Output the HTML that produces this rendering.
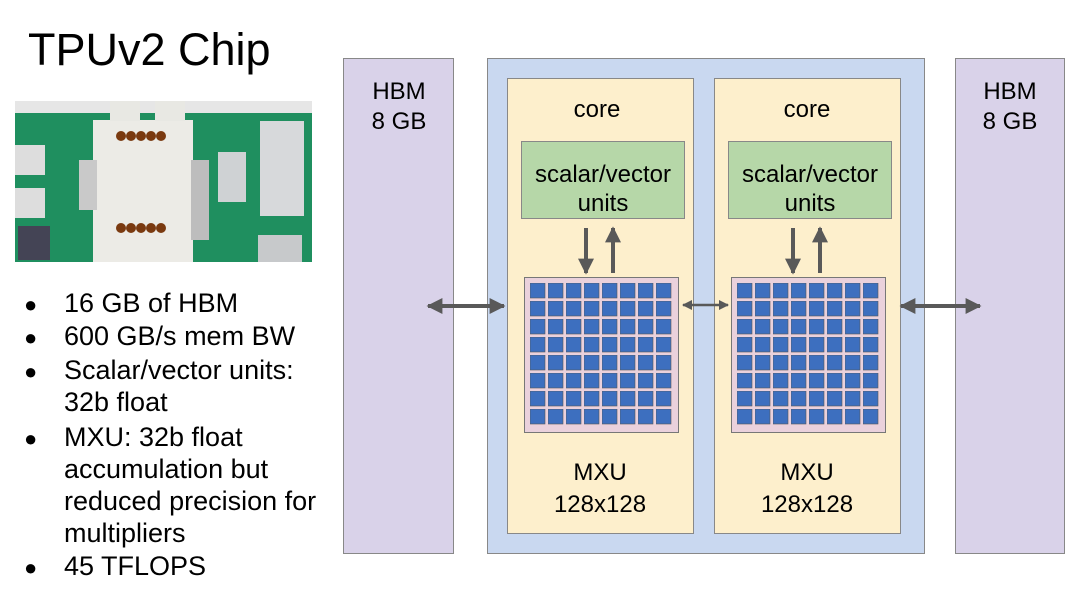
<!DOCTYPE html>
<html><head><style>
body{margin:0;width:1080px;height:608px;background:#fff;overflow:hidden;font-family:"Liberation Sans",sans-serif;}
</style></head><body>
<svg width="1080" height="608" xmlns="http://www.w3.org/2000/svg" font-family="Liberation Sans, sans-serif">
<defs>
<marker id="ah" markerWidth="4" markerHeight="4" refX="3.6" refY="2" orient="auto-start-reverse" markerUnits="strokeWidth"><path d="M0,0 L4,2 L0,4 z" fill="#595959"/></marker>
<pattern id="grid" x="530" y="283" width="18" height="18" patternUnits="userSpaceOnUse"><rect x="0" y="0" width="15" height="15" fill="#3d6fbf" stroke="#555" stroke-width="0.6"/></pattern>
<pattern id="grid2" x="737" y="283" width="18" height="18" patternUnits="userSpaceOnUse"><rect x="0" y="0" width="15" height="15" fill="#3d6fbf" stroke="#555" stroke-width="0.6"/></pattern>
</defs>
<text x="28" y="65" font-size="45" fill="#000">TPUv2 Chip</text>
<!-- photo approximation -->
<rect x="15" y="101" width="297" height="161" fill="#1f8f5f"/>
<rect x="15" y="101" width="297" height="12" fill="#e6e6e6"/>
<rect x="15" y="145" width="30" height="30" fill="#ddd"/>
<rect x="15" y="188" width="30" height="30" fill="#ddd"/>
<rect x="18" y="226" width="32" height="34" fill="#445"/>
<rect x="93" y="120" width="100" height="142" fill="#ecebe6"/>
<rect x="110" y="101" width="30" height="20" fill="#e8e8e3"/>
<rect x="155" y="101" width="30" height="20" fill="#e8e8e3"/>
<rect x="79" y="160" width="18" height="50" fill="#c9c9c9"/>
<rect x="191" y="160" width="18" height="80" fill="#bdbdbd"/>
<rect x="218" y="152" width="28" height="50" fill="#cfd2d4"/>
<rect x="260" y="121" width="44" height="95" fill="#d7d9db"/>
<rect x="258" y="235" width="44" height="27" fill="#c7c9cb"/>
<g fill="#7a3a10"><circle cx="121" cy="136" r="5"/><circle cx="131" cy="136" r="5"/><circle cx="141" cy="136" r="5"/><circle cx="151" cy="136" r="5"/><circle cx="161" cy="136" r="5"/>
<circle cx="121" cy="228" r="5"/><circle cx="131" cy="228" r="5"/><circle cx="141" cy="228" r="5"/><circle cx="151" cy="228" r="5"/><circle cx="161" cy="228" r="5"/></g>
<!-- bullets -->
<g font-size="27" fill="#000">
<text x="24" y="312" font-size="22">●</text><text x="64" y="312">16 GB of HBM</text>
<text x="24" y="345" font-size="22">●</text><text x="64" y="345">600 GB/s mem BW</text>
<text x="24" y="379" font-size="22">●</text><text x="64" y="379">Scalar/vector units:</text>
<text x="64" y="411">32b float</text>
<text x="24" y="446" font-size="22">●</text><text x="64" y="446">MXU: 32b float</text>
<text x="64" y="478">accumulation but</text>
<text x="64" y="510">reduced precision for</text>
<text x="64" y="542">multipliers</text>
<text x="24" y="575" font-size="22">●</text><text x="64" y="575">45 TFLOPS</text>
</g>
<!-- HBMs -->
<rect x="343.5" y="58.5" width="110" height="495" fill="#d9d2e9" stroke="#888"/>
<rect x="955.5" y="58.5" width="109" height="495" fill="#d9d2e9" stroke="#888"/>
<g font-size="24" fill="#000" text-anchor="middle">
<text x="399" y="99">HBM</text><text x="399" y="129">8 GB</text>
<text x="1010" y="99">HBM</text><text x="1010" y="129">8 GB</text>
</g>
<rect x="487.5" y="58.5" width="437" height="495" fill="#c9d8f0" stroke="#888"/>
<rect x="507.5" y="78.5" width="186" height="455" fill="#fdefcc" stroke="#888"/>
<rect x="714.5" y="78.5" width="186" height="455" fill="#fdefcc" stroke="#888"/>
<rect x="521.5" y="141.5" width="163" height="77" fill="#b6d7a8" stroke="#888"/>
<rect x="728.5" y="141.5" width="163" height="77" fill="#b6d7a8" stroke="#888"/>
<rect x="524.5" y="277.5" width="154" height="155" fill="#ead1dc" stroke="#777"/>
<rect x="731.5" y="277.5" width="154" height="155" fill="#ead1dc" stroke="#777"/>
<rect x="530" y="283" width="144" height="144" fill="url(#grid)"/>
<rect x="737" y="283" width="144" height="144" fill="url(#grid2)"/>
<g font-size="24" fill="#000" text-anchor="middle">
<text x="597" y="117">core</text><text x="807" y="117">core</text>
<text x="603" y="182">scalar/vector</text><text x="603" y="211">units</text>
<text x="810" y="182">scalar/vector</text><text x="810" y="211">units</text>
<text x="600" y="480">MXU</text><text x="600" y="512">128x128</text>
<text x="807" y="480">MXU</text><text x="807" y="512">128x128</text>
</g>
<g stroke="#595959" stroke-width="4" fill="none">
<line x1="428" y1="306" x2="504" y2="306" marker-start="url(#ah)" marker-end="url(#ah)"/>
<line x1="901" y1="306" x2="980" y2="306" marker-start="url(#ah)" marker-end="url(#ah)"/>
<line x1="586" y1="228" x2="586" y2="273" marker-end="url(#ah)"/>
<line x1="613" y1="273" x2="613" y2="228" marker-end="url(#ah)"/>
<line x1="793" y1="228" x2="793" y2="273" marker-end="url(#ah)"/>
<line x1="820" y1="273" x2="820" y2="228" marker-end="url(#ah)"/>
</g>
<line x1="683" y1="305" x2="728" y2="305" stroke="#595959" stroke-width="2.5" marker-start="url(#ah)" marker-end="url(#ah)"/>
</svg>
</body></html>
